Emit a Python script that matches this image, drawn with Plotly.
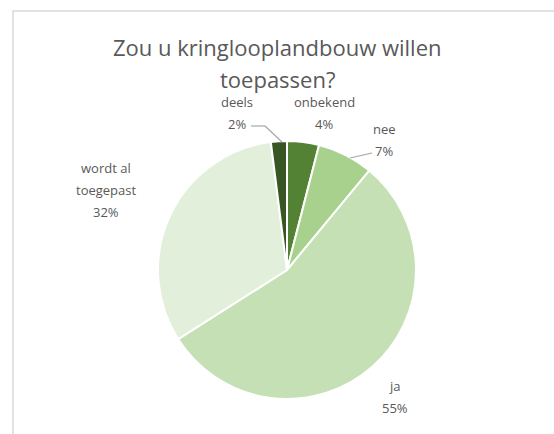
import plotly.graph_objects as go

W, H = 554, 434

labels = ["onbekend", "nee", "ja", "wordt al toegepast", "deels"]
values = [4, 7, 55, 32, 2]
colors = ["#548235", "#a9d18e", "#c5e0b4", "#e2efda", "#375623"]
title_lines = ["Zou u kringlooplandbouw willen", "toepassen?"]

# top-line position (pixels) of each slice's outside label, excel style
label_pos = {
    "onbekend": (324, 102),
    "nee": (384, 129),
    "ja": (395, 386),
    "wordt al toegepast": (106, 168),
    "deels": (237, 102),
}
label_lines = {
    "wordt al toegepast": ["wordt al", "toegepast"],
}
TEXT_COLOR = "#595959"
FONT = "Open Sans, Liberation Sans, sans-serif"
LINE_H = 22


def px(x, y):
    return x / W, 1 - y / H


total = sum(values)
cx, cy, r = 287, 270, 129
x0, y0 = px(cx - r, cy + r)
x1, y1 = px(cx + r, cy - r)

fig = go.Figure()
fig.add_trace(
    go.Pie(
        labels=labels,
        values=values,
        sort=False,
        direction="clockwise",
        rotation=0,
        marker=dict(colors=colors, line=dict(color="white", width=2)),
        textinfo="none",
        hoverinfo="label+percent",
        domain=dict(x=[x0, x1], y=[y0, y1]),
        showlegend=False,
    )
)

annotations = []
# title, one annotation per line so the spacing matches
for i, line in enumerate(title_lines):
    ax, ay = px(277, 47 + i * 32)
    annotations.append(
        dict(x=ax, y=ay, xref="paper", yref="paper", text=line,
             showarrow=False, xanchor="center", yanchor="middle",
             font=dict(family=FONT, size=22, color=TEXT_COLOR))
    )

for lab, val in zip(labels, values):
    x, y = label_pos[lab]
    pct = round(100 * val / total)
    lines = label_lines.get(lab, [lab]) + [f"{pct}%"]
    for i, line in enumerate(lines):
        ax, ay = px(x, y + i * LINE_H)
        annotations.append(
            dict(
                x=ax, y=ay, xref="paper", yref="paper",
                text=line, showarrow=False,
                font=dict(family=FONT, size=13, color=TEXT_COLOR),
                xanchor="center", yanchor="middle",
            )
        )

shapes = [
    # chart area border
    dict(type="rect", xref="paper", yref="paper",
         x0=13 / W, y0=-0.05, x1=1.05, y1=1 - 11 / H,
         line=dict(color="#d9d9d9", width=1.5), layer="below"),
]
# leader lines
for pts in ([(251, 126), (265, 126), (282, 142)], [(372, 153), (350, 158)]):
    for (ax_, ay_), (bx, by) in zip(pts[:-1], pts[1:]):
        a, b = px(ax_, ay_), px(bx, by)
        shapes.append(dict(type="line", xref="paper", yref="paper",
                           x0=a[0], y0=a[1], x1=b[0], y1=b[1],
                           line=dict(color="#a6a6a6", width=1.2)))

fig.update_layout(
    width=W,
    height=H,
    margin=dict(l=0, r=0, t=0, b=0),
    paper_bgcolor="white",
    annotations=annotations,
    shapes=shapes,
)

fig.write_html(
    "out.html",
    config={"displayModeBar": False},
    post_script="document.body.style.margin='0';",
)
